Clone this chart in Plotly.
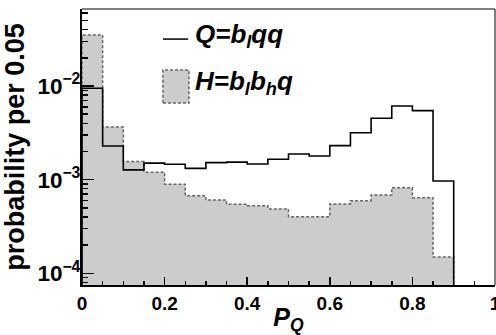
import plotly.graph_objects as go

# ---- data ----
bin_left = [0.00, 0.05, 0.10, 0.15, 0.20, 0.25, 0.30, 0.35, 0.40,
            0.45, 0.50, 0.55, 0.60, 0.65, 0.70, 0.75, 0.80, 0.85]
bin_width = 0.05

q_vals = [9.45e-3, 2.29e-3, 1.27e-3, 1.50e-3, 1.46e-3, 1.32e-3, 1.52e-3, 1.54e-3, 1.47e-3,
          1.65e-3, 1.88e-3, 1.79e-3, 2.31e-3, 3.17e-3, 4.52e-3, 6.11e-3, 5.45e-3, 9.67e-4]
h_vals = [3.50e-2, 3.65e-3, 1.56e-3, 1.20e-3, 8.92e-4, 6.74e-4, 6.07e-4, 5.46e-4, 5.27e-4,
          4.86e-4, 4.02e-4, 4.02e-4, 5.50e-4, 5.96e-4, 6.85e-4, 8.20e-4, 6.41e-4, 1.49e-4]

q_label = "<b><i>Q=b<sub>l</sub>qq</i></b>"
h_label = "<b><i>H=b<sub>l</sub>b<sub>h</sub>q</i></b>"
x_title = "<b><i>P<sub>Q</sub></i></b>"
y_title = "<b>probability per 0.05</b>"

FLOOR = 1e-7  # below the visible axis range, closes the histogram outline


def step_xy(vals):
    right = bin_left[-1] + bin_width
    xs = [bin_left[0]] + list(bin_left) + [right, right]
    ys = [FLOOR] + list(vals) + [vals[-1], FLOOR]
    return xs, ys


FONT = "Liberation Sans"
GRAY_FILL = "#cccccc"
DASH_COL = "#666666"

hx, hy = step_xy(h_vals)
qx, qy = step_xy(q_vals)

fig = go.Figure()
fig.add_trace(go.Scatter(
    x=hx, y=hy, mode="lines", line_shape="hv", fill="toself",
    fillcolor=GRAY_FILL, line=dict(color=DASH_COL, width=1.5, dash="3px,2px"),
    name=h_label, hoverinfo="skip"))
fig.add_trace(go.Scatter(
    x=qx, y=qy, mode="lines", line_shape="hv",
    line=dict(color="black", width=1.6), name=q_label, hoverinfo="skip"))

fig.update_layout(
    width=496, height=335,
    margin=dict(l=82, r=1, t=9, b=50, autoexpand=False),
    plot_bgcolor="white", paper_bgcolor="white",
    showlegend=False,
    font=dict(family=FONT, color="black"),
)

fig.update_xaxes(
    range=[0, 1], showgrid=False, zeroline=False, automargin=False,
    showline=True, linecolor="black", linewidth=2,
    ticks="inside", ticklen=8, tickwidth=1.5, tickcolor="black",
    tick0=0, dtick=0.2, ticklabeloverflow="allow",
    minor=dict(ticks="inside", ticklen=4, tickwidth=1.5, tickcolor="black",
               dtick=0.05, showgrid=False),
    tickfont=dict(family=FONT, size=19, weight="bold", color="black"),
    title=dict(text=x_title, font=dict(family=FONT, size=25, color="black"), standoff=7),
)
fig.update_yaxes(
    type="log", range=[-4.125, -1.178], showgrid=False, zeroline=False, automargin=False,
    showline=True, linecolor="black", linewidth=2,
    ticks="inside", ticklen=12, tickwidth=1.5, tickcolor="black",
    tick0=0, dtick=1, exponentformat="power", ticklabelstandoff=-4,
    minor=dict(ticks="inside", ticklen=6, tickwidth=1.5, tickcolor="black",
               dtick="D1", showgrid=False),
    tickfont=dict(family=FONT, size=18, weight="bold", color="black"),
    title=dict(text=y_title, font=dict(family=FONT, size=27, color="black"), standoff=6),
)

# frame: top and right edges
fig.add_shape(type="line", xref="paper", yref="paper", x0=0, x1=1, y0=1, y1=1,
              line=dict(color="#555555", width=1.5), layer="above")
fig.add_shape(type="line", xref="paper", yref="paper", x0=1, x1=1, y0=0, y1=1,
              line=dict(color="#555555", width=1.5), layer="above")

# legend (drawn by hand to match the reference layout)
fig.add_shape(type="line", xref="paper", yref="paper", x0=0.196, x1=0.257, y0=0.891, y1=0.891,
              line=dict(color="black", width=1.5), layer="above")
fig.add_shape(type="rect", xref="paper", yref="paper", x0=0.196, x1=0.259, y0=0.659, y1=0.779,
              fillcolor=GRAY_FILL, line=dict(color=DASH_COL, width=1.5, dash="3px,2px"), layer="above")
fig.add_annotation(xref="paper", yref="paper", x=0.268, y=0.905, xanchor="left", yanchor="middle",
                   text=q_label, showarrow=False, font=dict(family=FONT, size=26, color="black"))
fig.add_annotation(xref="paper", yref="paper", x=0.268, y=0.733, xanchor="left", yanchor="middle",
                   text=h_label, showarrow=False, font=dict(family=FONT, size=26, color="black"))

fig.write_html(
    "out.html",
    config={"displayModeBar": False, "staticPlot": True},
    post_script="document.body.style.margin='0';document.body.style.overflow='hidden';",
)
